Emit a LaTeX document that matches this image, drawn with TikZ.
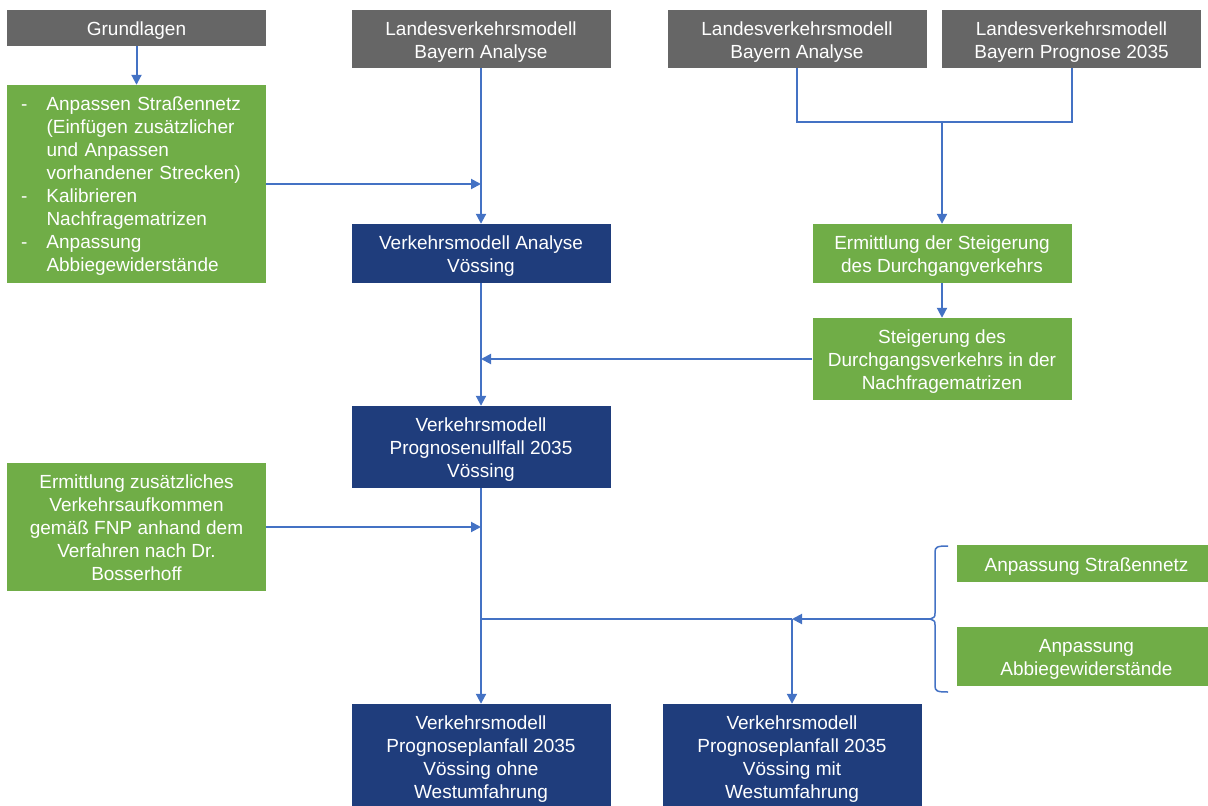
\documentclass[tikz,border=0pt]{standalone}
\usepackage{fontspec}
\setmainfont{Liberation Sans}
\usetikzlibrary{arrows.meta}

\definecolor{boxgray}{HTML}{666666}
\definecolor{boxgreen}{HTML}{70AD47}
\definecolor{boxblue}{HTML}{1F3D7C}
\definecolor{linkblue}{HTML}{4472C4}

% struts that centre the lines as in the slide
\newcommand{\bl}[1]{\rule{0pt}{20pt}#1\rule[-5pt]{0pt}{0pt}}

\begin{document}
\begin{tikzpicture}[x=1pt,y=-1pt,
    flowbox/.style={minimum width=259, inner sep=0, text=white, align=center,
        font=\fontsize{19}{23}\selectfont},
    graybox/.style={flowbox, fill=boxgray},
    greenbox/.style={flowbox, fill=boxgreen},
    bluebox/.style={flowbox, fill=boxblue},
    link/.style={draw=linkblue, line width=2},
    conn/.style={link, -{Triangle[length=10,width=10]}}]
\clip (0,0) rectangle (1208,806);

% Top row
\node[graybox, minimum height=36] (grund) at (136.5,28) {\bl{Grundlagen}};
\node[graybox, minimum height=58] (lvmA) at (481,39) {\bl{Landesverkehrsmodell\\Bayern Analyse}};
\node[graybox, minimum height=58] (lvmB) at (797,39) {\bl{Landesverkehrsmodell\\Bayern Analyse}};
\node[graybox, minimum height=58] (lvmP) at (1071.5,39) {\bl{Landesverkehrsmodell\\Bayern Prognose 2035}};

% Analysis
\node[greenbox, minimum height=198, align=left, text width=231, inner xsep=14] (liste) at (136.5,184)
    {\rule{0pt}{20pt}\begin{tabular}[t]{@{}p{25.5pt}@{}l@{}}
    - & Anpassen Straßennetz\\
      & (Einfügen zusätzlicher\\
      & und Anpassen\\
      & vorhandener Strecken)\\
    - & Kalibrieren\\
      & Nachfragematrizen\\
    - & Anpassung\\
      & Abbiegewiderstände
    \end{tabular}};
\node[bluebox, minimum height=59] (vmA) at (481,253.5) {\bl{Verkehrsmodell Analyse\\Vössing}};
\node[greenbox, minimum height=59] (ermS) at (942,253.5) {\bl{Ermittlung der Steigerung\\des Durchgangverkehrs}};
\node[greenbox, minimum height=82] (steig) at (942,359) {\bl{Steigerung des\\Durchgangsverkehrs in der\\Nachfragematrizen}};

% Prognosis
\node[bluebox, minimum height=82] (vmN) at (481,447) {\bl{Verkehrsmodell\\Prognosenullfall 2035\\Vössing}};
\node[greenbox, minimum height=128] (ermZ) at (136.5,527) {\bl{Ermittlung zusätzliches\\Verkehrsaufkommen\\gemäß FNP anhand dem\\Verfahren nach Dr.\\Bosserhoff}};
\node[greenbox, minimum height=37] (anpS) at (1086.5,563.5) {\bl{Anpassung Straßennetz}};
\node[greenbox, minimum height=59] (anpA) at (1086.5,656.5) {\bl{Anpassung\\Abbiegewiderstände}};
\node[bluebox, minimum height=105] (ohne) at (481,756.5) {\bl{Verkehrsmodell\\Prognoseplanfall 2035\\Vössing ohne\\Westumfahrung}};
\node[bluebox, minimum height=105] (mit) at (792,756.5) {\bl{Verkehrsmodell\\Prognoseplanfall 2035\\Vössing mit\\Westumfahrung}};

% Connectors
\draw[conn] (grund) -- (liste);
\draw[conn] (lvmA) -- (vmA);
\draw[conn] (liste.east) -- (liste.east -| vmA);
\draw[conn] (vmA) -- (vmN);
\draw[conn] (steig.west) -- (steig.west -| vmN);
\draw[conn] (vmN) -- (ohne);
\draw[conn] (ermZ.east) -- (ermZ.east -| vmN);

\coordinate (merge) at (942,122);
\draw[link] (lvmB.south) |- (merge) -| (lvmP.south);
\draw[conn] (merge) -- (ermS);
\draw[conn] (ermS) -- (steig);

% Brace and branch
\draw[link, line width=1.5] (948,546) .. controls (937,546) and (935,547) .. (935,552)
    -- (935,613) .. controls (935,617) .. (930,619) .. controls (935,621) .. (935,625)
    -- (935,686) .. controls (935,691) and (937,692) .. (948,692);
\coordinate (tip) at (930,619);
\coordinate (split) at (mit.north |- tip);
\draw[conn] (tip) -- (split);
\draw[link] (split) -- (split -| vmN);
\draw[conn] (split) -- (mit);
\end{tikzpicture}
\end{document}
